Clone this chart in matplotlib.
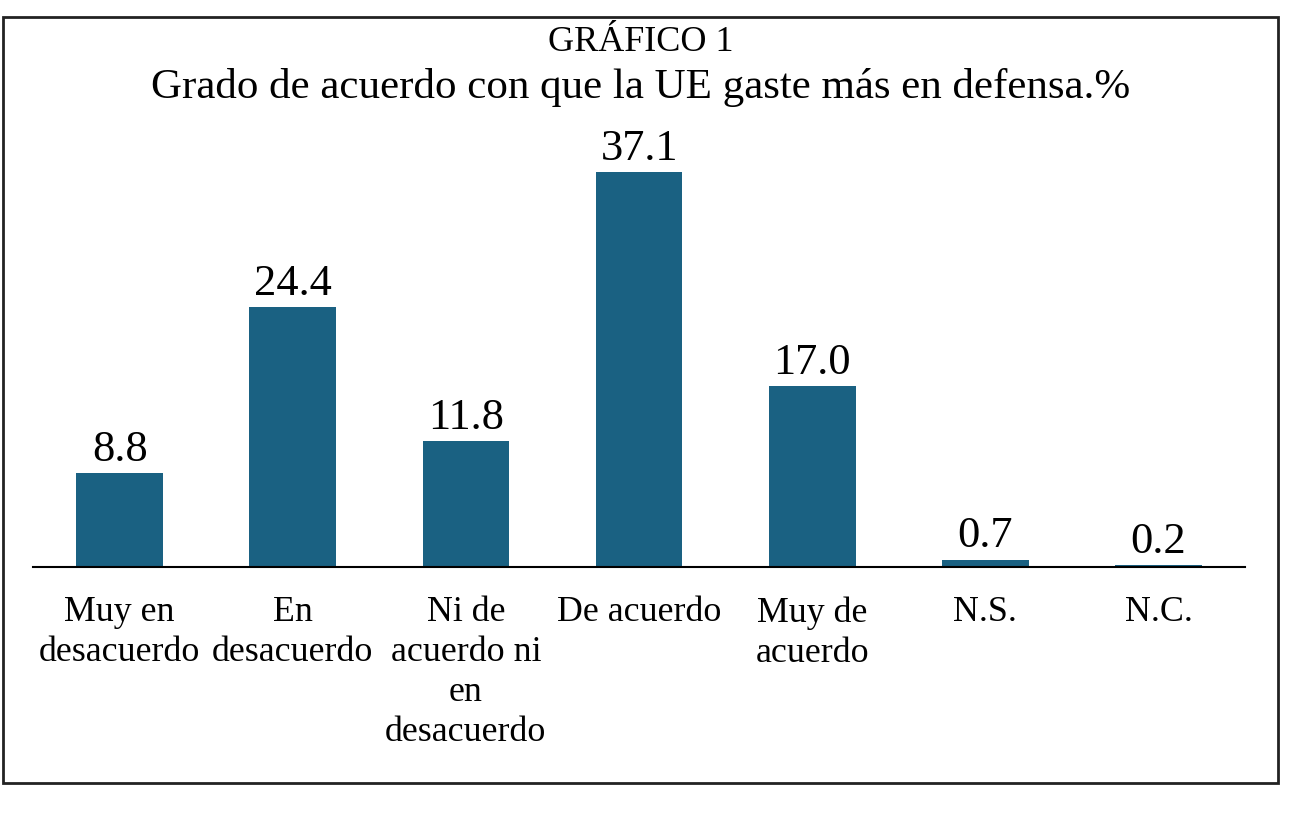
import matplotlib
matplotlib.use('Agg')
import matplotlib.pyplot as plt
from matplotlib.patches import Rectangle

categories = ['Muy en\ndesacuerdo', 'En\ndesacuerdo', 'Ni de\nacuerdo ni\nen\ndesacuerdo',
              'De acuerdo', 'Muy de\nacuerdo', 'N.S.', 'N.C.']
values = [8.8, 24.4, 11.8, 37.1, 17.0, 0.7, 0.2]
bar_color = '#1a6182'

plt.rcParams['font.family'] = ['Liberation Serif', 'DejaVu Serif']

fig = plt.figure(figsize=(13.12, 8.15), dpi=100)
ax = fig.add_axes([0.0252, 0.3043, 0.9238, 0.5226])

x = range(len(values))
ax.bar(x, values, width=0.5, color=bar_color)
for i, v in zip(x, values):
    ax.text(i, v + 0.3, f'{v:.1f}', ha='center', va='bottom', fontsize=32)

ax.set_xlim(-0.5, 6.5)
ax.set_ylim(0, 40)
ax.set_xticks(list(x))
ax.set_xticklabels(categories, fontsize=25.8, linespacing=1.28)
ax.tick_params(axis='x', length=0, pad=21)
ax.set_yticks([])
for s in ['top', 'right', 'left']:
    ax.spines[s].set_visible(False)
ax.spines['bottom'].set_linewidth(1.5)

fig.text(0.488, 0.937, 'GRÁFICO 1', ha='center', va='baseline', fontsize=26)
fig.text(0.488, 0.880, 'Grado de acuerdo con que la UE gaste más en defensa.%',
         ha='center', va='baseline', fontsize=31)

fig.patches.append(Rectangle((3 / 1312, 1 - 783 / 815), 1275 / 1312, 766 / 815,
                             transform=fig.transFigure, fill=False,
                             edgecolor='#222222', linewidth=2))

fig.savefig('out.png', dpi=100)
